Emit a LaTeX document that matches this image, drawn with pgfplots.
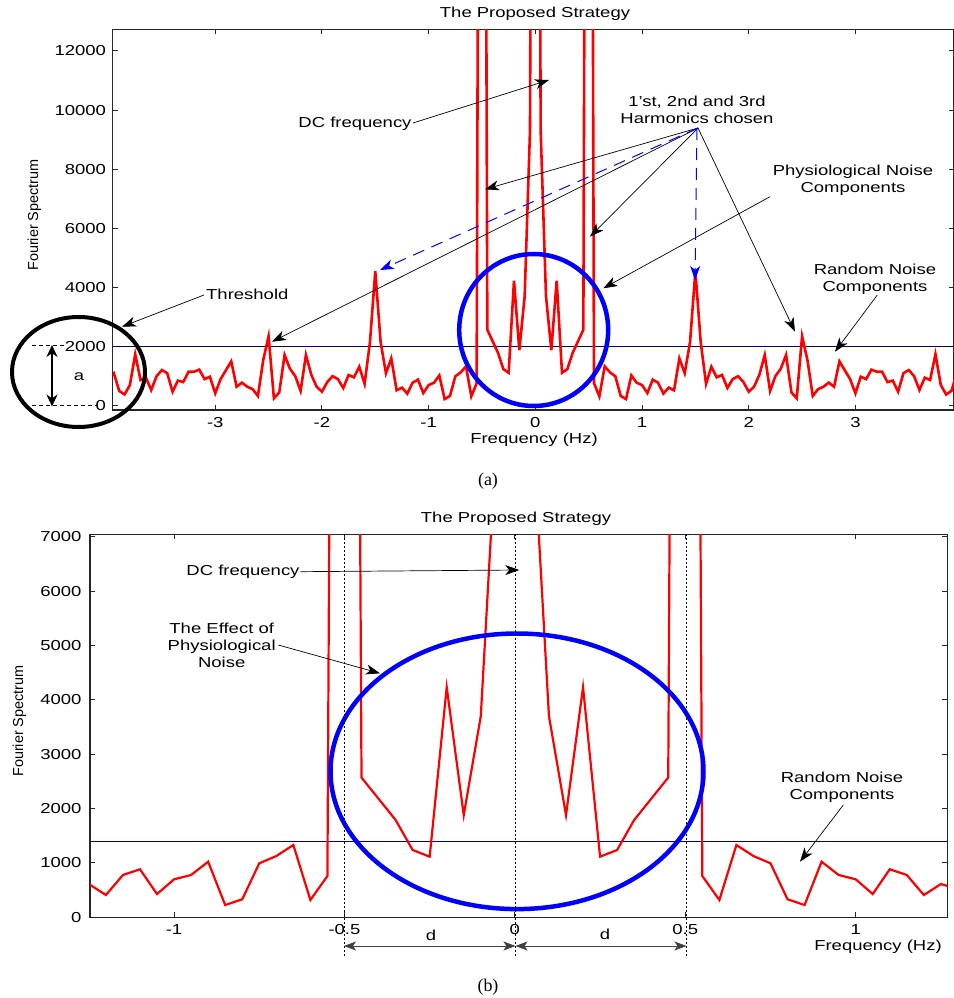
\documentclass[border=0pt]{standalone}
\usepackage{pgfplots}
\usepackage{pgfplotstable}
\pgfplotsset{compat=1.18}
\usepackage{fontspec}
\setmainfont{Liberation Sans}[FakeStretch=1.28]
\newfontfamily\plainsans{Liberation Sans}
\newfontfamily\capfont{Liberation Serif}
\usetikzlibrary{arrows.meta}
\definecolor{thr}{RGB}{0,0,140}
\newcommand\lab{\fontsize{14.5}{17.3}\selectfont}

\pgfplotstableread{
x y
-4.00 900
-3.95 1096
-3.90 500
-3.85 380
-3.80 700
-3.75 1740
-3.70 869
-3.65 950
-3.60 531
-3.55 1000
-3.50 1208
-3.45 1100
-3.40 474
-3.35 850
-3.30 800
-3.25 1150
-3.20 1150
-3.15 1220
-3.10 900
-3.05 981
-3.00 420
-2.95 900
-2.90 1200
-2.85 1500
-2.80 643
-2.75 780
-2.70 643
-2.65 560
-2.60 330
-2.55 1550
-2.50 2350
-2.45 250
-2.40 450
-2.35 1715
-2.30 1250
-2.25 1000
-2.20 500
-2.15 1715
-2.10 1050
-2.05 643
-2.00 474
-1.95 800
-1.90 1000
-1.85 900
-1.80 600
-1.75 1040
-1.70 960
-1.65 1320
-1.60 740
-1.55 2150
-1.50 4550
-1.45 2150
-1.40 1100
-1.35 1600
-1.30 520
-1.25 612
-1.20 410
-1.15 778
-1.10 883
-1.05 428
-1.00 699
-0.95 778
-0.90 1023
-0.85 226
-0.80 331
-0.75 993
-0.70 1127
-0.65 1330
-0.60 318
-0.55 760
-0.50 60000
-0.45 2570
-0.40 2180
-0.35 1790
-0.30 1238
-0.25 1115
-0.20 4230
-0.15 1880
-0.10 3700
-0.05 9300
0.00 60000
0.05 9300
0.10 3700
0.15 1880
0.20 4230
0.25 1115
0.30 1238
0.35 1790
0.40 2180
0.45 2570
0.50 60000
0.55 760
0.60 318
0.65 1330
0.70 1127
0.75 993
0.80 331
0.85 226
0.90 1023
0.95 778
1.00 699
1.05 428
1.10 883
1.15 778
1.20 410
1.25 612
1.30 520
1.35 1600
1.40 1100
1.45 2150
1.50 4550
1.55 2150
1.60 740
1.65 1320
1.70 960
1.75 1040
1.80 600
1.85 900
1.90 1000
1.95 800
2.00 474
2.05 643
2.10 1050
2.15 1715
2.20 500
2.25 1000
2.30 1250
2.35 1715
2.40 450
2.45 250
2.50 2350
2.55 1550
2.60 330
2.65 560
2.70 643
2.75 780
2.80 643
2.85 1500
2.90 1200
2.95 900
3.00 420
3.05 981
3.10 900
3.15 1220
3.20 1150
3.25 1150
3.30 800
3.35 850
3.40 474
3.45 1100
3.50 1208
3.55 1000
3.60 531
3.65 950
3.70 869
3.75 1740
3.80 700
3.85 380
3.90 500
3.95 1096
4.00 900
}\spec

\begin{document}
\begin{tikzpicture}
\useasboundingbox (0,0) rectangle (954bp,-998bp);
\pgfplotsset{
  myax/.style={
    scale only axis, anchor=south west,
    scaled ticks=false,
    axis line style={line width=1.1bp, black!85},
    every tick/.style={line width=1bp, black!85},
    tick align=inside, major tick length=5bp,
    tick label style={font=\lab, inner sep=0pt},
  }
}
\begin{axis}[myax, at={(112.7bp,-410bp)}, width=841.3bp, height=380.7bp,
  xmin=-3.961, xmax=3.924, ymin=-145, ymax=12734,
  xtick={-3,-2,-1,0,1,2,3}, xticklabels={-3,-2,-1,0,1,2,3},
  ytick={0,2000,4000,6000,8000,10000,12000},
  yticklabels={0,2000,4000,6000,8000,10000,12000},
  xticklabel style={yshift=-7bp}, yticklabel style={xshift=-6.5bp}]
\addplot[thr, line width=0.9bp] coordinates {(-5,2000) (5,2000)};
\addplot[red, line width=2.6bp] table {\spec};
\end{axis}

\begin{axis}[myax, at={(90bp,-917.3bp)}, width=857.3bp, height=383bp,
  xmin=-1.2466, xmax=1.2689, ymin=0, ymax=7044,
  xtick={-1,-0.5,0,0.5,1}, xticklabels={-1,-0.5,0,0.5,1},
  ytick={0,1000,2000,3000,4000,5000,6000,7000},
  yticklabels={0,1000,2000,3000,4000,5000,6000,7000},
  xticklabel style={yshift=-6.7bp}, yticklabel style={xshift=-8.3bp}]
\addplot[thr, line width=0.9bp] coordinates {(-5,1403) (5,1403)};
\addplot[red, line width=2.2bp] table {\spec};
\end{axis}

\begin{scope}[x=1bp,y=-1bp, every node/.style={font=\lab, inner sep=0pt},
  ar/.style={line width=0.7bp, -{Stealth[length=14bp,width=10bp,inset=4bp]}},
  bar/.style={blue, line width=1bp, dash pattern=on 12bp off 8bp, -{Stealth[length=14bp,width=10bp,inset=4bp]}}]
% titles, labels, captions
\node at (535,14) {The Proposed Strategy};
\node at (516,519) {The Proposed Strategy};
\node at (534,440) {Frequency (Hz)};
\node at (878,947) {Frequency (Hz)};
\node[rotate=90] at (34.5,215) {\plainsans\fontsize{14.5}{16}\selectfont Fourier Spectrum};
\node[rotate=90] at (19.5,721) {\plainsans\fontsize{14.5}{16}\selectfont Fourier Spectrum};
\node at (488,481) {\capfont\fontsize{18}{20}\selectfont (a)};
\node at (488,987) {\capfont\fontsize{18}{20}\selectfont (b)};

% ---- panel (a) ----
\draw[line width=4bp] (78.5,372) ellipse [x radius=66.5, y radius=55];
\draw[dash pattern=on 4bp off 3bp, line width=0.8bp] (32,345.7) -- (64,345.7) (32,405.7) -- (98,405.7);
\draw[line width=2.5bp, {Stealth[length=12bp,width=11bp]}-{Stealth[length=12bp,width=11bp]}] (52,345) -- (52,406.5);
\node at (79,377) {a};
\draw[blue, line width=4.5bp] (533.7,330) ellipse [x radius=74.5, y radius=76];

\node[anchor=west] at (206,294) {Threshold};
\draw[ar] (204,295) -- (122,326.7);
\node at (355,124) {DC frequency};
\draw[ar] (413,123) -- (549,80);
\node[align=center] at (697,110) {1'st, 2nd and 3rd\\Harmonics chosen};
\draw[ar] (698,128) -- (485,189.3);
\draw[ar] (698,128) -- (272,341.7);
\draw[ar] (698,128) -- (590,236.7);
\draw[ar] (698,128) -- (795,331.7);
\draw[bar] (698,128) -- (380,270);
\draw[bar] (697,128) -- (695,280);
\node[align=center] at (853,180) {Physiological Noise\\Components};
\draw[ar] (770,196.7) -- (603.3,288.3);
\node[align=center] at (875,279) {Random Noise\\Components};
\draw[ar] (877.3,295) -- (835,351.7);

% ---- panel (b) ----
\draw[blue, line width=4.5bp] (517,771.3) ellipse [x radius=186.5, y radius=137.8];
\draw[dash pattern=on 2bp off 2bp, line width=1bp] (344,534.3) -- (344,958) (515.5,534.3) -- (515.5,958) (686.5,534.3) -- (686.5,958);
\draw[line width=0.8bp, black!75, {Stealth[length=12bp,width=9bp,inset=3bp]}-{Stealth[length=12bp,width=9bp,inset=3bp]}] (344,946) -- (515.5,946);
\draw[line width=0.8bp, black!75, {Stealth[length=12bp,width=9bp,inset=3bp]}-{Stealth[length=12bp,width=9bp,inset=3bp]}] (515.5,946) -- (686.5,946);
\node at (431,935) {d};
\node at (605,934) {d};
\node at (243,572) {DC frequency};
\draw[ar] (300.5,571.7) -- (519.3,570);
\node[align=center] at (221.7,645.5) {The Effect of\\Physiological\\Noise};
\draw[ar] (278.3,645) -- (380,673.3);
\node[align=center] at (842,787.5) {Random Noise\\Components};
\draw[ar] (843.3,805) -- (800,861.7);
\end{scope}
\end{tikzpicture}
\end{document}
